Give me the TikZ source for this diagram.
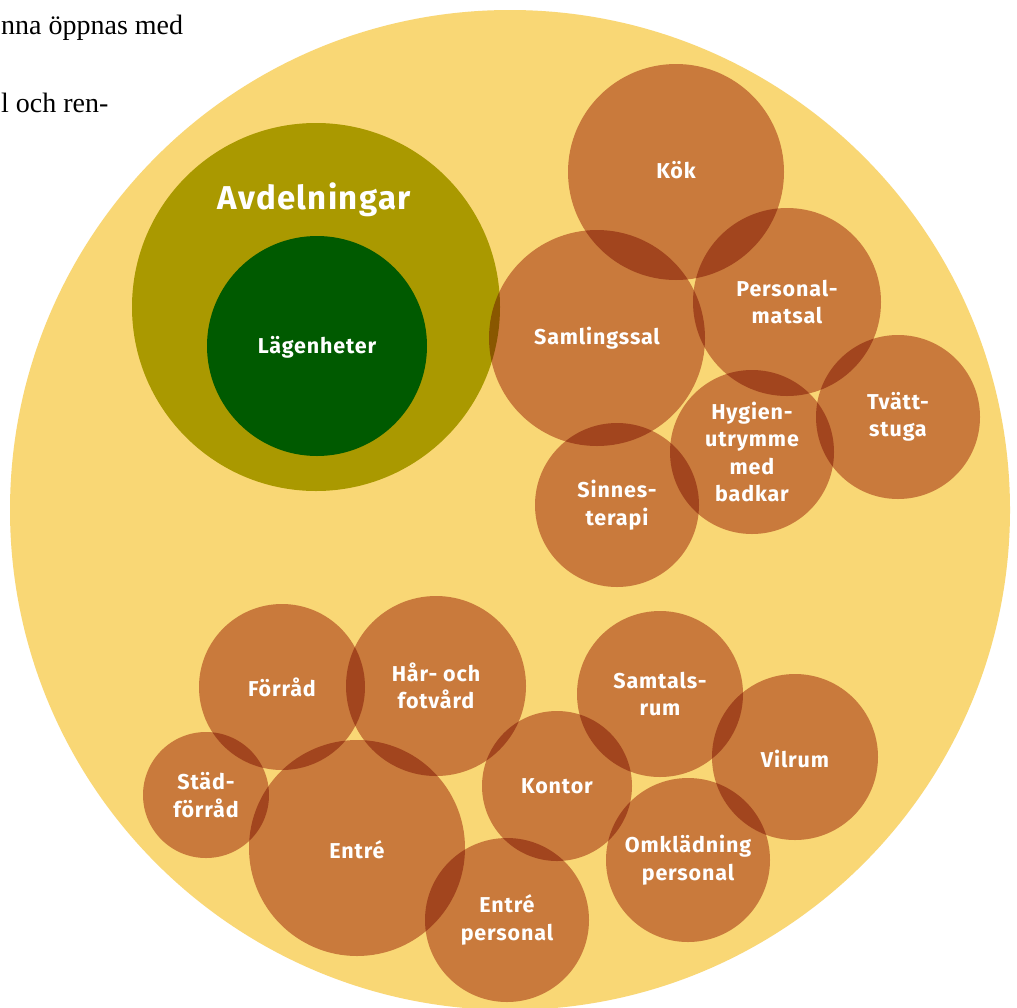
\documentclass[tikz,border=0pt]{standalone}
\usepackage{fontspec}
\setmainfont{Liberation Serif}
\newfontfamily\labfont[LetterSpace=4]{Fira Sans}
\definecolor{bgyellow}{RGB}{249,215,117}
\definecolor{roomc}{RGB}{206,145,131}
\definecolor{oliveA}{RGB}{170,153,0}
\definecolor{greenL}{RGB}{0,90,0}
\tikzset{
  room/.style={circle, fill=roomc, draw=none, inner sep=0pt, outer sep=0pt, minimum size=#1},
  lab/.style={text=white, align=center, font=\labfont\bfseries\fontsize{21.5}{27.5}\selectfont},
  bodytext/.style={anchor=base west, inner sep=0pt, font=\fontsize{28}{30}\selectfont}
}
\begin{document}
\begin{tikzpicture}[x=1pt,y=-1pt]
\useasboundingbox (0,0) rectangle (1017,1007);
\fill[white] (0,0) rectangle (1017,1007);
\begin{scope}
\clip (0,0) rectangle (1017,1007);
\node[circle, fill=bgyellow, inner sep=0pt, minimum size=1000pt] (plan) at (510,510) {};
\end{scope}
\node[bodytext] (t1) at (1,34) {nna öppnas med};
\node[bodytext] (t2) at (1,112) {l och ren-};
\node[circle, fill=oliveA, inner sep=0pt, minimum size=368pt] (avd) at (316,307) {};
\node[circle, fill=greenL, inner sep=0pt, minimum size=220pt] (lag) at (317,346) {};
\begin{scope}[blend mode=multiply]
\node[room=216pt] (kok) at (676,172) {};
\node[room=216pt] (sam) at (597,338) {};
\node[room=188pt] (pers) at (787,302) {};
\node[room=164pt] (tvatt) at (898,417) {};
\node[room=164pt] (hyg) at (752,452) {};
\node[room=164pt] (sinn) at (617,505) {};
\node[room=166pt] (forr) at (282,687) {};
\node[room=180pt] (har) at (436,686) {};
\node[room=126pt] (stad) at (206,795) {};
\node[room=216pt] (entre) at (357,848) {};
\node[room=150pt] (kont) at (557,786) {};
\node[room=166pt] (samt) at (660,694) {};
\node[room=166pt] (vil) at (795,757) {};
\node[room=164pt] (omk) at (688,860) {};
\node[room=164pt] (entp) at (507,920) {};
\end{scope}
\node[lab, font=\labfont\bfseries\fontsize{33}{36}\selectfont] (avdl) at (314,200) {Avdelningar};
\node[lab] at ([yshift=-1pt]lag.center) {Lägenheter};
\node[lab] at ([yshift=2pt]kok.center) {Kök};
\node[lab] at (sam.center) {Samlingssal};
\node[lab] at (pers.center) {Personal-\\matsal};
\node[lab] at (tvatt.center) {Tvätt-\\stuga};
\node[lab] at (hyg.center) {Hygien-\\utrymme\\med\\badkar};
\node[lab] at (sinn.center) {Sinnes-\\terapi};
\node[lab] at (forr.center) {Förråd};
\node[lab] at (har.center) {Hår- och\\fotvård};
\node[lab] at (stad.center) {Städ-\\förråd};
\node[lab] at ([yshift=-2pt]entre.center) {Entré};
\node[lab] at (kont.center) {Kontor};
\node[lab] at (samt.center) {Samtals-\\rum};
\node[lab] at ([yshift=-2pt]vil.center) {Vilrum};
\node[lab] at (omk.center) {Omklädning\\personal};
\node[lab] at (entp.center) {Entré\\personal};
\end{tikzpicture}
\end{document}
